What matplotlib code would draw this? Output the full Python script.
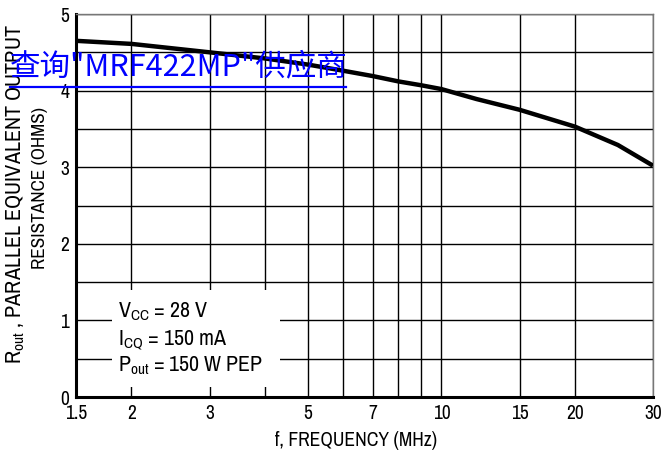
import numpy as np
import matplotlib
matplotlib.use('Agg')
import matplotlib.pyplot as plt
import matplotlib.font_manager as fm
from matplotlib.patches import Rectangle
from matplotlib.ticker import FixedLocator, NullFormatter, FixedFormatter

# Данные с графика
freq_mhz = [1.5, 2, 3, 4, 5, 6, 7, 8, 9, 10, 12, 15, 20, 25, 30]
r_out = [4.65, 4.61, 4.50, 4.42, 4.34, 4.26, 4.19, 4.12, 4.07, 4.02, 3.89, 3.75, 3.53, 3.29, 3.02]

x_major = [1.5, 2, 3, 5, 7, 10, 15, 20, 30]
x_major_labels = ['1.5', '2', '3', '5', '7', '10', '15', '20', '30']
x_minor = [4, 6, 8, 9]
y_major = [0, 1, 2, 3, 4, 5]
y_minor = [0.5, 1.5, 2.5, 3.5, 4.5]

note_lines = [r'V$_{\mathrm{CC}}$ = 28 V', r'I$_{\mathrm{CQ}}$ = 150 mA', r'P$_{\mathrm{out}}$ = 150 W PEP']
ylabel_lines = [r'R$_{\mathrm{out}}$ , PARALLEL EQUIVALENT OUTPUT', 'RESISTANCE (OHMS)']
xlabel = 'f, FREQUENCY (MHz)'
watermark = '查询"MRF422MP"供应商'

# Узкий шрифт в стиле Arial Narrow, если он есть
installed = set(f.name for f in fm.fontManager.ttflist)
narrow = 'Liberation Sans'
for cand in ['Liberation Sans Narrow', 'Arial Narrow', 'Archivo Narrow', 'Roboto Condensed']:
    if cand in installed:
        narrow = cand
        break

plt.rcParams['font.family'] = [narrow, 'Liberation Sans', 'DejaVu Sans']
plt.rcParams['mathtext.fontset'] = 'custom'
plt.rcParams['mathtext.rm'] = narrow
plt.rcParams['mathtext.it'] = narrow

fig = plt.figure(figsize=(6.66, 4.61), dpi=100)
ax = fig.add_axes([0.1141, 0.1388, 0.8664, 0.8308])
renderer = fig.canvas.get_renderer()


def fit_text(t, target_px, vertical=False):
    # подгоняем размер шрифта под длину текста на картинке
    for _ in range(3):
        bb = t.get_window_extent(renderer)
        size = bb.height if vertical else bb.width
        t.set_fontsize(t.get_fontsize() * target_px / size)


ax.plot(freq_mhz, r_out, color='black', linewidth=3.2, solid_capstyle='butt', zorder=3)

ax.set_xscale('log')
ax.set_xlim(1.5, 30)
ax.set_ylim(0, 5)
ax.xaxis.set_major_locator(FixedLocator(x_major))
ax.xaxis.set_major_formatter(FixedFormatter(x_major_labels))
ax.xaxis.set_minor_locator(FixedLocator(x_minor))
ax.xaxis.set_minor_formatter(NullFormatter())
ax.yaxis.set_major_locator(FixedLocator(y_major))
ax.yaxis.set_minor_locator(FixedLocator(y_minor))

ax.grid(which='both', color='black', linewidth=1.0)
ax.tick_params(which='both', length=0, labelsize=14)
ax.tick_params(axis='x', pad=5)
ax.tick_params(axis='y', pad=5)

for side in ['left', 'bottom']:
    ax.spines[side].set_linewidth(2.2)
for side in ['top', 'right']:
    ax.spines[side].set_linewidth(1.0)
    ax.spines[side].set_color('#777777')

# Подписи осей
t = fig.text(356 / 666, 1 - 440 / 461, xlabel, ha='center', va='center', fontsize=14)
fit_text(t, 162)
t = fig.text(16 / 666, 1 - 194 / 461, ylabel_lines[0], rotation=90, ha='center', va='center', fontsize=14)
fit_text(t, 340, vertical=True)
t = fig.text(40 / 666, 1 - 188 / 461, ylabel_lines[1], rotation=90, ha='center', va='center', fontsize=14)
fit_text(t, 162, vertical=True)

# Блок с условиями (белый фон закрывает сетку)
ax.add_patch(Rectangle((1.81, 0.13), 4.32 - 1.81, 1.40 - 0.13, facecolor='white',
                       edgecolor='none', zorder=2.5))
note_y = [1.044, 0.679, 0.34]
for line, yy in zip(note_lines, note_y):
    t = ax.text(1.87, yy, line, fontsize=14, ha='left', va='baseline', zorder=4)
fit_text(t, 145)
for tt in ax.texts:
    tt.set_fontsize(t.get_fontsize())

# Водяной знак
fig.text(0.015, 0.855, watermark, color='#0000ff', fontsize=22,
         family=['Noto Sans CJK SC', 'DejaVu Sans'], ha='left', va='center', zorder=10)
fig.add_artist(plt.Line2D([0.015, 0.52], [0.811, 0.811], color='#0000ff', linewidth=1.6))

plt.savefig('out.png')
plt.close()
